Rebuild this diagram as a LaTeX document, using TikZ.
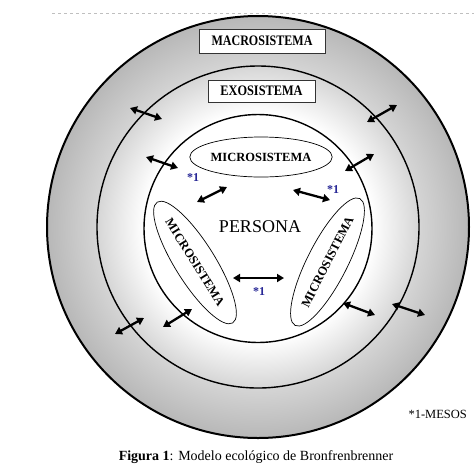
\documentclass[tikz,border=0pt]{standalone}
\usepackage{fontspec}
\setmainfont{Liberation Serif}
\usepackage{graphicx}
\usetikzlibrary{arrows.meta,shapes.geometric}

\pgfdeclareradialshading{ringshade}{\pgfpoint{0bp}{0bp}}{%
  color(0bp)=(white); color(13.5bp)=(white); color(19bp)=(black!16);
  color(19.3bp)=(black!17); color(25bp)=(black!28); color(50bp)=(black!28)}
\definecolor{starblue}{RGB}{40,40,150}

\def\xunit{1pt}
\def\yunit{-1pt}

\tikzset{
  sysbox/.style={draw=black!80, fill=white, line width=0.8pt, inner sep=0pt,
    minimum height=24pt, font=\fontsize{14.5}{16}\selectfont\bfseries},
  micro/.style={ellipse, draw, fill=white, line width=0.7pt, inner sep=0pt,
    minimum width=132pt, minimum height=40pt, font=\fontsize{12.5}{14}\selectfont\bfseries},
  link/.style={{Triangle[length=7pt,width=8pt]}-{Triangle[length=7pt,width=8pt]}, line width=2.3pt},
  star/.style={text=starblue, font=\fontsize{12}{14}\selectfont\bfseries},
}

\begin{document}
\begin{tikzpicture}[x=\xunit, y=\yunit]
\useasboundingbox (0,0) rectangle (474,467);

% ---- top rule ----
\draw[black!25, dashed, line width=0.5pt] (52,13) -- (474,13);

% ---- nested systems: centre (258,227) ----
\coordinate (centre) at (258,227);
\shade[shading=ringshade] (centre) circle (211);
\draw[line width=2pt] (centre) circle (211);
\draw[line width=1.4pt] (centre) circle (161);
\draw[line width=1.4pt, fill=white] (258,228.5) circle (114);

% ---- labels of the rings ----
\node[sysbox, minimum width=126pt] (macro) at (262,41) {\scalebox{0.83}[1]{MACROSISTEMA}};
\node[sysbox, minimum width=107pt, minimum height=22pt] (exo) at (261.5,91) {\scalebox{0.85}[1]{EXOSISTEMA}};

% ---- microsystems round the person ----
\node[font=\fontsize{18}{20}\selectfont] (persona) at (260,227) {PERSONA};
\node[micro] (microT) at (261,157) {MICROSISTEMA};
\node[micro, rotate=-58] (microL) at (195,262.5) {MICROSISTEMA};
\node[micro, rotate=63] (microR) at (327.5,262) {MICROSISTEMA};

% ---- links: name/start/end ----
\foreach \n/\p/\q in {tlo/{130,108}/{162,119}, tli/{146,157}/{178,168},
                      tro/{397,105}/{367,122}, tri/{374,154}/{345,171},
                      blo/{115,334}/{144,318}, bli/{163,327}/{192,309},
                      bri/{343,303}/{375,315}, bro/{392,304}/{425,315},
                      mtl/{197,202}/{227,187}, mtr/{293,190}/{330,200},
                      mb/{233,278}/{284,278}} {
  \coordinate (\n-a) at (\p);
  \coordinate (\n-b) at (\q);
  \draw[link] (\n-a) -- (\n-b);
}

% ---- mesosystem marks ----
\node[star] (mesoL) at (193,178) {*1};
\node[star] (mesoR) at (333,190) {*1};
\node[star] (mesoB) at (259,292) {*1};

% ---- notes ----
\node[anchor=west, font=\fontsize{12.5}{14}\selectfont] (mesos) at (405,414) {*1-MESOS};
\node[font=\fontsize{14}{16}\selectfont] (caption) at (256,457)
  {\textbf{Figura 1}: Modelo ecológico de Bronfrenbrenner};

\end{tikzpicture}
\end{document}
